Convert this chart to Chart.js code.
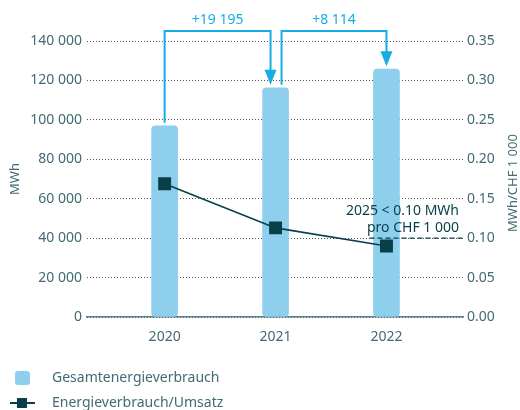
<!DOCTYPE html>
<html>
<head>
<meta charset="utf-8">
<script src="https://cdn.jsdelivr.net/npm/chart.js@4.4.0/dist/chart.umd.min.js"></script>
<style>
    html, body { margin: 0; padding: 0; background: #fff; }
    #wrap { width: 520px; height: 410px; position: relative; }
</style>
</head>
<body>
<div id="wrap"><canvas id="chart"></canvas></div>
<script>
// data
const years = [2020, 2021, 2022];
const energyMWh = [97000, 116300, 125700];
const increases = [19195, 8114];
const intensity = [0.169, 0.113, 0.090];
const leftTicks = [0, 20000, 40000, 60000, 80000, 100000, 120000, 140000];
const rightTicks = [0, 0.05, 0.10, 0.15, 0.20, 0.25, 0.30, 0.35];
const target = 0.10;
const targetText = ['2025 < 0.10 MWh', 'pro CHF 1 000'];
const seriesLabels = ['Gesamtenergieverbrauch', 'Energieverbrauch/Umsatz'];
const leftTitle = 'MWh';
const rightTitle = 'MWh/CHF 1 000';

const BAR = '#8ecfee';
const LINE = '#083f49';
const CYAN = '#14aee4';
const TEXT = '#426b75';
const GRID = '#555';

Chart.defaults.font.family = '"Noto Sans", sans-serif';

const fmt = n => String(n).replace(/\B(?=(\d{3})+(?!\d))/g, ' ');

// arrows, target line, right title and legend
const overlay = {
    id: 'overlay',
    afterDatasetsDraw(chart) {
        const { ctx, chartArea: area, scales: { x, y, y1 } } = chart;
        ctx.save();

        // target line
        const ty = y1.getPixelForValue(target);
        ctx.strokeStyle = LINE;
        ctx.lineWidth = 1.3;
        ctx.setLineDash([5, 3]);
        ctx.beginPath();
        ctx.moveTo(x.getPixelForValue(years[2]) - 17, ty);
        ctx.lineTo(area.right, ty);
        ctx.stroke();
        ctx.setLineDash([]);

        ctx.fillStyle = LINE;
        ctx.font = '14px "Noto Sans"';
        ctx.textAlign = 'right';
        ctx.textBaseline = 'middle';
        ctx.fillText(targetText[0], area.right - 4, ty - 27);
        ctx.fillText(targetText[1], area.right - 4, ty - 10);

        // increase arrows
        const top = area.top - 10;
        for (let i = 0; i < years.length - 1; i++) {
            const x0 = x.getPixelForValue(years[i]) + (i === 0 ? 0 : 6);
            const y0 = y.getPixelForValue(energyMWh[i]) - 3;
            const x1 = x.getPixelForValue(years[i + 1]) - (i === 0 ? 5 : 0);
            const y1p = y.getPixelForValue(energyMWh[i + 1]) - 3;
            ctx.strokeStyle = CYAN;
            ctx.fillStyle = CYAN;
            ctx.lineWidth = 2;
            ctx.beginPath();
            ctx.moveTo(x0, y0);
            ctx.lineTo(x0, top);
            ctx.lineTo(x1, top);
            ctx.lineTo(x1, y1p - 12);
            ctx.stroke();
            ctx.beginPath();
            ctx.moveTo(x1 - 6, y1p - 15);
            ctx.lineTo(x1 + 6, y1p - 15);
            ctx.lineTo(x1, y1p);
            ctx.closePath();
            ctx.fill();
            ctx.font = '14px "Noto Sans"';
            ctx.textAlign = 'center';
            ctx.textBaseline = 'middle';
            ctx.fillText('+' + fmt(increases[i]), (x0 + x1) / 2, top - 11);
        }

        // right axis title
        ctx.save();
        ctx.translate(513, (area.top + area.bottom) / 2 + 4);
        ctx.rotate(-Math.PI / 2);
        ctx.fillStyle = TEXT;
        ctx.font = '13px "Noto Sans"';
        ctx.textAlign = 'center';
        ctx.textBaseline = 'middle';
        ctx.fillText(rightTitle, 0, 0);
        ctx.restore();

        // legend
        ctx.fillStyle = BAR;
        ctx.beginPath();
        ctx.roundRect(15, 371, 15, 14, 3);
        ctx.fill();
        ctx.strokeStyle = LINE;
        ctx.lineWidth = 2;
        ctx.beginPath();
        ctx.moveTo(10, 403);
        ctx.lineTo(35, 403);
        ctx.stroke();
        ctx.fillStyle = LINE;
        ctx.fillRect(17, 398, 10, 10);
        ctx.fillStyle = TEXT;
        ctx.font = '14px "Noto Sans"';
        ctx.textAlign = 'left';
        ctx.textBaseline = 'middle';
        ctx.fillText(seriesLabels[0], 52, 378);
        ctx.fillText(seriesLabels[1], 52, 403);

        ctx.restore();
    }
};

new Chart(document.getElementById('chart'), {
    type: 'bar',
    data: {
        datasets: [
            {
                type: 'bar',
                label: seriesLabels[0],
                data: years.map((yr, i) => ({ x: yr, y: energyMWh[i] })),
                backgroundColor: BAR,
                barThickness: 26,
                borderRadius: 4,
                borderSkipped: false,
                yAxisID: 'y',
                order: 2
            },
            {
                type: 'line',
                label: seriesLabels[1],
                data: years.map((yr, i) => ({ x: yr, y: intensity[i] })),
                borderColor: LINE,
                backgroundColor: LINE,
                borderWidth: 1.6,
                pointStyle: 'rect',
                pointRadius: 8,
                yAxisID: 'y1',
                order: 1
            }
        ]
    },
    options: {
        responsive: true,
        maintainAspectRatio: false,
        animation: false,
        layout: { padding: { top: 41, left: 0, right: 0, bottom: 0 } },
        plugins: { legend: { display: false }, tooltip: { enabled: false } },
        scales: {
            x: {
                type: 'linear',
                min: 2019.3,
                max: 2022.69,
                offset: false,
                grid: { display: false, drawTicks: false, offset: false },
                border: { display: true, color: '#5b7d86', width: 1.5 },
                ticks: { color: TEXT, font: { size: 14 }, padding: 12, callback: v => String(v) },
                afterBuildTicks: s => { s.ticks = years.map(v => ({ value: v })); },
                afterFit: s => { s.height = 93; }
            },
            y: {
                position: 'left',
                min: 0,
                max: 140000,
                grid: { color: GRID, lineWidth: 1, drawTicks: false },
                border: { display: false, dash: [1, 2] },
                ticks: { color: TEXT, font: { size: 14 }, padding: 5, callback: v => fmt(v) },
                afterBuildTicks: s => { s.ticks = leftTicks.map(v => ({ value: v })); },
                title: { display: true, text: leftTitle, color: TEXT, font: { size: 13 }, padding: { top: 7, bottom: 0 } },
                afterFit: s => { s.width = 87; }
            },
            y1: {
                position: 'right',
                min: 0,
                max: 0.35,
                grid: { display: false, drawTicks: false },
                border: { display: false },
                ticks: { color: TEXT, font: { size: 14 }, padding: 4, callback: v => v.toFixed(2) },
                afterBuildTicks: s => { s.ticks = rightTicks.map(v => ({ value: v })); },
                afterFit: s => { s.width = 57; }
            }
        }
    },
    plugins: [overlay]
});
</script>
</body>
</html>
